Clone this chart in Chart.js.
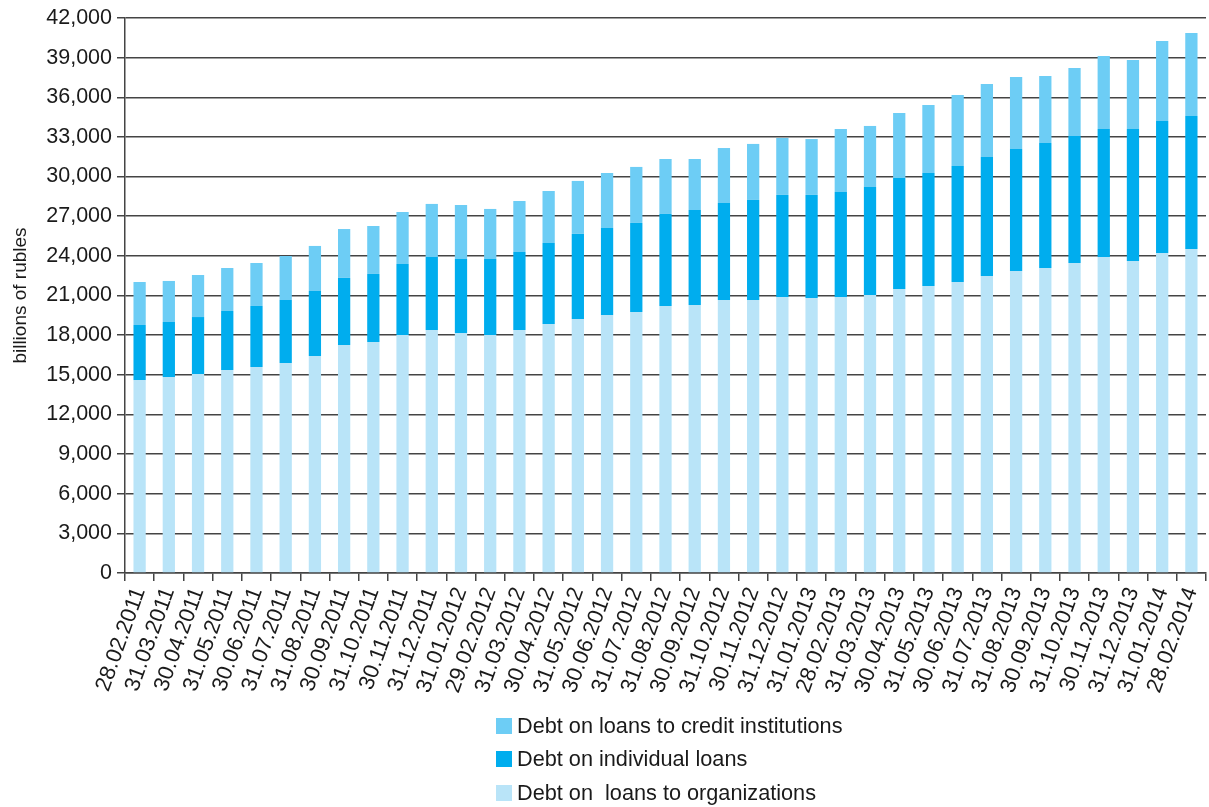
<!DOCTYPE html>
<html>
<head>
<meta charset="utf-8">
<script src="https://cdn.jsdelivr.net/npm/chart.js@4.4.0/dist/chart.umd.min.js"></script>
<style>
  html, body { margin: 0; padding: 0; background: #fff; }
  #wrap { position: relative; width: 1209px; height: 807px; }
  #chart { position: absolute; left: 0; top: 0; }
  #legend { position: absolute; left: 496px; top: 709px; font-family: "Liberation Sans", Arial, sans-serif; font-size: 21.7px; color: #1a1a1a; }
  #legend .item { display: flex; align-items: center; height: 33.5px; white-space: pre; }
  #legend .box { width: 16px; height: 16px; margin-right: 5px; }
</style>
</head>
<body>
<div id="wrap">
  <canvas id="chart" width="1209" height="807"></canvas>
  <div id="legend"></div>
</div>
<script>
// Reporting dates (end of month)
const dates = [
  "28.02.2011","31.03.2011","30.04.2011","31.05.2011","30.06.2011","31.07.2011",
  "31.08.2011","30.09.2011","31.10.2011","30.11.2011","31.12.2011","31.01.2012",
  "29.02.2012","31.03.2012","30.04.2012","31.05.2012","30.06.2012","31.07.2012",
  "31.08.2012","30.09.2012","31.10.2012","30.11.2012","31.12.2012","31.01.2013",
  "28.02.2013","31.03.2013","30.04.2013","31.05.2013","30.06.2013","31.07.2013",
  "31.08.2013","30.09.2013","31.10.2013","30.11.2013","31.12.2013","31.01.2014",
  "28.02.2014"
];

// Debt on loans to organizations, billions of rubles
const organizations = [
  14600,14830,15060,15360,15590,15890,16420,17250,17480,18010,18390,18160,
  18010,18390,18840,19220,19530,19750,20210,20280,20660,20660,20890,20810,
  20890,21040,21490,21720,22020,22480,22860,23080,23460,23910,23610,24220,
  24520
];

// Debt on individual loans, billions of rubles
const individuals = [
  4170,4170,4310,4470,4620,4770,4920,5080,5150,5370,5520,5600,
  5750,5900,6130,6440,6580,6740,6960,7190,7340,7570,7720,7800,
  7940,8170,8400,8550,8780,9000,9230,9460,9610,9690,9990,9990,
  10060
];

// Debt on loans to credit institutions, billions of rubles
const creditInstitutions = [
  3250,3100,3180,3250,3250,3330,3410,3700,3630,3940,4020,4090,
  3790,3860,3940,4010,4160,4240,4160,3860,4160,4240,4310,4230,
  4770,4620,4920,5150,5370,5530,5450,5070,5150,5530,5220,6050,
  6290
];

const yTicks = { min: 0, max: 42000, step: 3000 };

const FONT = '"Liberation Sans", Arial, sans-serif';
const TEXT = '#1a1a1a';
const GRID = '#444444';

const datasets = [
  { label: 'Debt on  loans to organizations', data: organizations, backgroundColor: '#b9e4f8' },
  { label: 'Debt on individual loans', data: individuals, backgroundColor: '#00adee' },
  { label: 'Debt on loans to credit institutions', data: creditInstitutions, backgroundColor: '#6dcdf5' }
];

const chart = new Chart(document.getElementById('chart'), {
  type: 'bar',
  data: {
    labels: dates,
    datasets: datasets.map(d => Object.assign({ categoryPercentage: 1, barPercentage: 0.42, borderWidth: 0 }, d))
  },
  options: {
    responsive: false,
    animation: false,
    devicePixelRatio: 1,
    layout: { padding: { top: 18, right: 3, bottom: 100, left: 0 } },
    plugins: {
      legend: { display: false },
      tooltip: { enabled: false }
    },
    scales: {
      x: {
        stacked: true,
        offset: true,
        grid: { display: true, drawOnChartArea: false, drawTicks: true, tickLength: 8, color: GRID, lineWidth: 1.5, offset: true },
        border: { display: true, color: GRID, width: 1.5 },
        ticks: {
          autoSkip: false, minRotation: 70, maxRotation: 70, padding: 3,
          color: TEXT, font: { family: FONT, size: 22 }
        },
        afterFit: s => { s.height = 134; s.paddingRight = 0; s.paddingLeft = 0; }
      },
      y: {
        stacked: true,
        min: yTicks.min, max: yTicks.max,
        grid: { color: GRID, lineWidth: 1.5, tickLength: 8, drawTicks: true },
        border: { display: true, color: GRID, width: 1.5 },
        ticks: {
          stepSize: yTicks.step, padding: 5, color: TEXT,
          font: { family: FONT, size: 21.5 },
          callback: v => v.toLocaleString('en-US')
        },
        title: {
          display: true, text: 'billions of rubles', color: TEXT,
          font: { family: FONT, size: 19 }, padding: { top: 9, bottom: 0 }
        },
        afterFit: s => { s.width = 125; }
      }
    }
  }
});

// Legend listed top-down in stacking order (top segment first)
const legend = document.getElementById('legend');
chart.data.datasets.slice().reverse().forEach(ds => {
  const item = document.createElement('div');
  item.className = 'item';
  const box = document.createElement('span');
  box.className = 'box';
  box.style.background = ds.backgroundColor;
  const txt = document.createElement('span');
  txt.textContent = ds.label;
  item.appendChild(box);
  item.appendChild(txt);
  legend.appendChild(item);
});
</script>
</body>
</html>
